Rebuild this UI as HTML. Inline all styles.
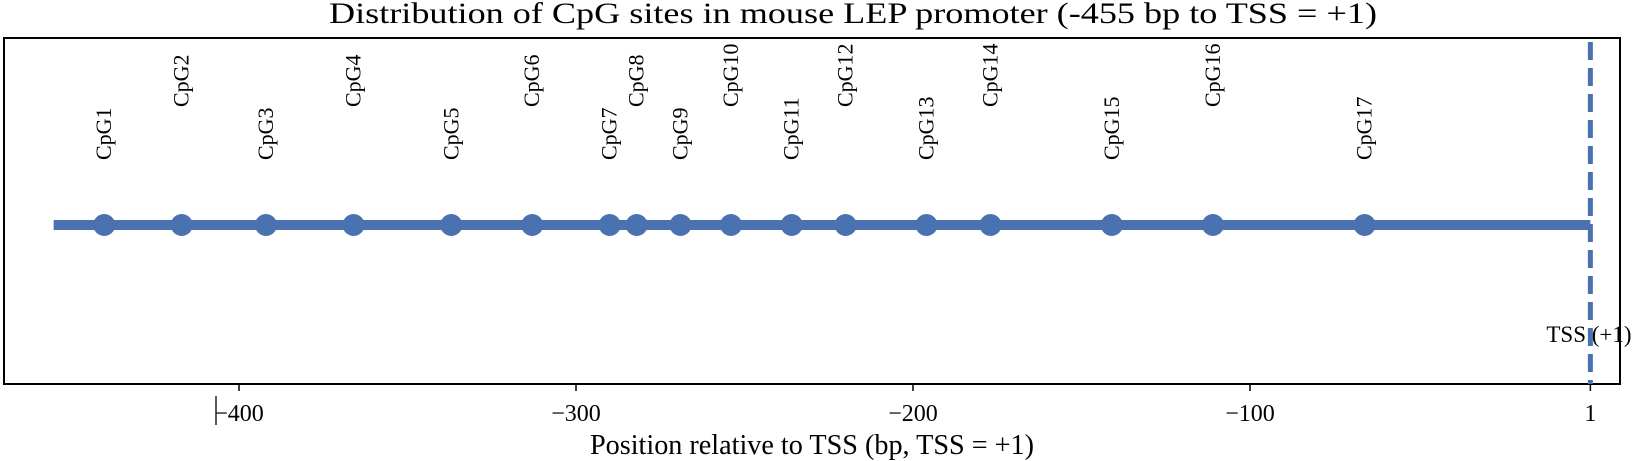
<!DOCTYPE html>
<html><head><meta charset="utf-8"><style>
body{margin:0;background:#fff}
svg{display:block;font-family:"Liberation Serif",serif}
</style></head><body>
<svg id="chart" width="1648" height="461" viewBox="0 0 1648 461" xmlns="http://www.w3.org/2000/svg">
<text x="853" y="23" text-anchor="middle" font-size="30" textLength="1048" lengthAdjust="spacingAndGlyphs">Distribution of CpG sites in mouse LEP promoter (-455 bp to TSS = +1)</text>
<rect x="4" y="38" width="1616" height="346" fill="none" stroke="#000" stroke-width="2"/>
<g id="marks"></g>
<g id="axis"></g>
<line x1="216" y1="396" x2="216" y2="425" stroke="#222" stroke-width="1.5"/>
<text x="812" y="454" text-anchor="middle" font-size="28" textLength="444" lengthAdjust="spacingAndGlyphs">Position relative to TSS (bp, TSS = +1)</text>
</svg>
<script>
const siteLabels=["CpG1","CpG2","CpG3","CpG4","CpG5","CpG6","CpG7","CpG8","CpG9","CpG10","CpG11","CpG12","CpG13","CpG14","CpG15","CpG16","CpG17"];
const sitePositions=[-440,-417,-392,-366,-337,-313,-290,-282,-269,-254,-236,-220,-196,-177,-141,-111,-66];
const regionStart=-455;
const tssPosition=1;
const tickValues=[-400,-300,-200,-100,1];
const tickLabels=["\u2212400","\u2212300","\u2212200","\u2212100","1"];

const NS="http://www.w3.org/2000/svg";
const xs=v=>239+(v+400)*3.37;
const yLine=225,color="#4a72b0";
const marks=document.getElementById('marks'),axis=document.getElementById('axis');
function mk(tag,attrs,parent){const e=document.createElementNS(NS,tag);for(const k in attrs)e.setAttribute(k,attrs[k]);parent.appendChild(e);return e;}

let l=mk('line',{x1:xs(regionStart),x2:xs(tssPosition),y1:yLine,y2:yLine,stroke:color,'stroke-width':10},marks);



let d=mk('line',{x1:xs(tssPosition),x2:xs(tssPosition),y1:42,y2:384,stroke:color,'stroke-width':5,'stroke-dasharray':'18 8'},marks);



let t=mk('text',{x:xs(tssPosition)-44,y:342,'font-size':23},marks);
t.textContent="TSS  (+1)";



sitePositions.forEach((p,i)=>{
  const x=xs(p);
  const c=mk('circle',{cx:x,cy:yLine,r:11,fill:color},marks);
  
  
  const yb=(i%2===1)?107:160;
  const tx=mk('text',{x:0,y:0,'font-size':22,transform:`translate(${x+7},${yb}) rotate(-90)`},marks);
  tx.textContent=siteLabels[i];
  
  
});

tickValues.forEach((v,i)=>{
  const x=xs(v);
  const tk=mk('line',{x1:x,x2:x,y1:384,y2:391,stroke:'#000','stroke-width':1.5},axis);
  
  
  const lb=mk('text',{x:x,y:421,'text-anchor':'middle','font-size':24},axis);
  lb.textContent=tickLabels[i];
  
  
});
</script>
</body></html>
